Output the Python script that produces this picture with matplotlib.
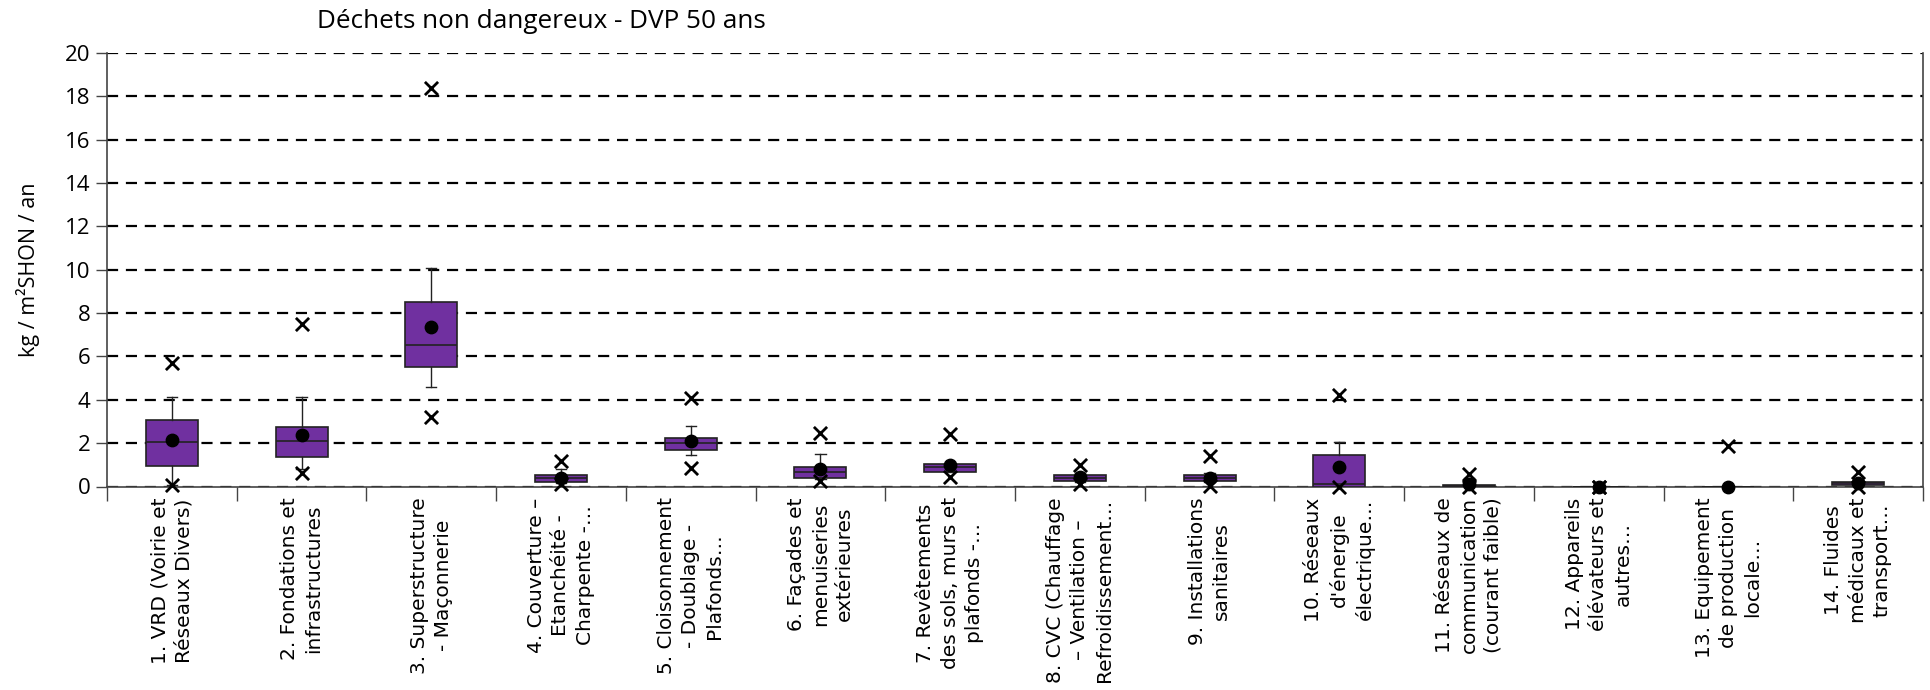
import numpy as np
import matplotlib.pyplot as plt

# categories (x labels)
labels = [
    "1. VRD (Voirie et\nRéseaux Divers)",
    "2. Fondations et\ninfrastructures",
    "3. Superstructure\n- Maçonnerie",
    "4. Couverture –\nEtanchéité -\nCharpente -…",
    "5. Cloisonnement\n- Doublage -\nPlafonds…",
    "6. Façades et\nmenuiseries\nextérieures",
    "7. Revêtements\ndes sols, murs et\nplafonds -…",
    "8. CVC (Chauffage\n– Ventilation –\nRefroidissement…",
    "9. Installations\nsanitaires",
    "10. Réseaux\nd'énergie\nélectrique…",
    "11. Réseaux de\ncommunication\n(courant faible)",
    "12. Appareils\nélévateurs et\nautres…",
    "13. Equipement\nde production\nlocale…",
    "14. Fluides\nmédicaux et\ntransport…",
]

# box statistics (kg / m2SHON / an)
q1     = [0.95, 1.37, 5.50, 0.20, 1.69, 0.38, 0.69, 0.26, 0.26, 0.00, 0.00, 0.0, 0.0, 0.08]
median = [2.03, 2.12, 6.52, 0.37, 2.00, 0.69, 0.88, 0.38, 0.38, 0.10, 0.04, 0.0, 0.0, 0.15]
q3     = [3.08, 2.74, 8.50, 0.54, 2.26, 0.92, 1.05, 0.51, 0.51, 1.46, 0.08, 0.0, 0.0, 0.23]
whislo = [0.06, 0.83, 4.58, 0.15, 1.46, 0.34, 0.69, 0.20, 0.20, 0.00, 0.00, 0.0, 0.0, 0.05]
whishi = [4.14, 4.14, 10.10, 0.80, 2.80, 1.51, 1.10, 0.62, 0.62, 2.05, 0.38, 0.0, 0.0, 0.25]
mean   = [2.15, 2.38, 7.38, 0.38, 2.08, 0.80, 0.97, 0.42, 0.40, 0.92, 0.10, 0.0, 0.0, 0.15]
x_max  = [5.70, 7.48, 18.40, 1.18, 4.06, 2.46, 2.42, 1.00, 1.43, 4.20, 0.58, 0.0, 1.85, 0.69]
x_min  = [0.06, 0.62, 3.20, 0.10, 0.85, 0.26, 0.43, 0.12, 0.03, 0.00, 0.00, 0.0, None, 0.00]

purple = '#7030A0'

fig = plt.figure(figsize=(19.31, 6.90), dpi=100)
ax = fig.add_axes([107/1931, 1 - 486.5/690, (1923 - 107)/1931, (486.5 - 53)/690])

pos = np.arange(1, len(labels) + 1)
stats = []
for i in range(len(labels)):
    stats.append(dict(med=median[i], q1=q1[i], q3=q3[i],
                      whislo=whislo[i], whishi=whishi[i], fliers=[]))

ax.bxp(stats, positions=pos, widths=0.4, patch_artist=True, showfliers=False,
       boxprops=dict(facecolor=purple, edgecolor='#222222', linewidth=1.2),
       medianprops=dict(color='#222222', linewidth=1.2),
       whiskerprops=dict(color='#222222', linewidth=1.0),
       capprops=dict(color='#222222', linewidth=1.0), capwidths=0.08,
       zorder=3)

ax.scatter(pos, mean, s=80, color='black', zorder=5, clip_on=False)
ax.scatter(pos, x_max, s=90, marker='x', color='black', linewidths=2, zorder=5, clip_on=False)
xm_pos = [p for p, v in zip(pos, x_min) if v is not None]
xm_val = [v for v in x_min if v is not None]
ax.scatter(xm_pos, xm_val, s=90, marker='x', color='black', linewidths=2, zorder=5, clip_on=False)

ax.set_xlim(0.5, len(labels) + 0.5)
ax.set_ylim(0, 20)
ax.set_yticks(np.arange(0, 21, 2))
ax.yaxis.grid(True, linestyle=(0, (5, 3.5)), color='black', linewidth=1.6)
ax.set_axisbelow(True)

# category separators as x ticks
ax.set_xticks(np.arange(0.5, len(labels) + 1, 1))
ax.set_xticklabels([])
ax.tick_params(axis='x', length=10, width=1, color='#444444')
ax.tick_params(axis='y', length=8, width=1, color='#444444', labelsize=16, pad=4)
for lab in ax.get_yticklabels():
    lab.set_family('Open Sans')

for p, t in zip(pos, labels):
    ax.text(p, -0.5, t, rotation=90, ha='center', va='top', multialignment='center',
            fontsize=14.5, linespacing=1.35, family='DejaVu Sans', transform=ax.transData)

ax.spines['top'].set_visible(False)
for s in ['left', 'bottom', 'right']:
    ax.spines[s].set_color('#444444')
    ax.spines[s].set_linewidth(1.2)

ax.set_ylabel('kg / m²SHON / an', fontsize=15.5, family='Open Sans', labelpad=18)
fig.text(541/1931, 1 - 21/690, 'Déchets non dangereux - DVP 50 ans', ha='center', va='center',
         fontsize=18.8, family='Open Sans')

fig.savefig('out.png', dpi=100)
